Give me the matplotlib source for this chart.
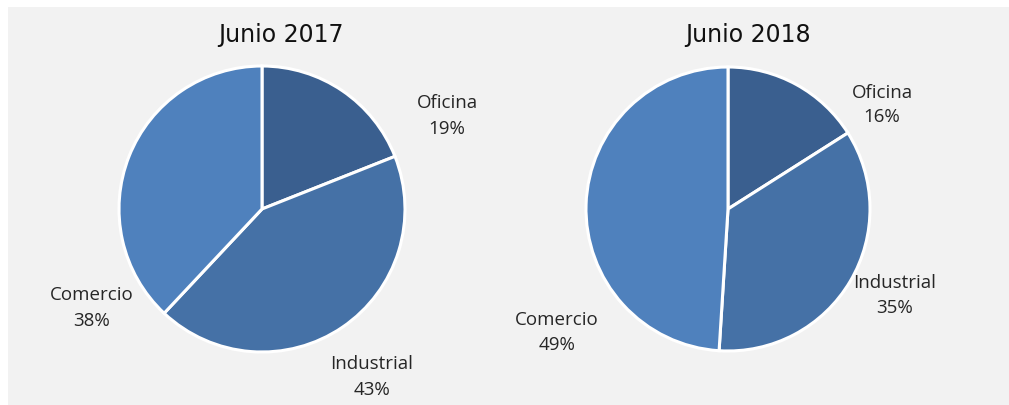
import matplotlib
matplotlib.use("Agg")
import matplotlib.pyplot as plt
from matplotlib.patches import Rectangle

# Share of floor-space transactions by sector
categories = ["Oficina", "Industrial", "Comercio"]
share_2017 = [19, 43, 38]
share_2018 = [16, 35, 49]
titles = ["Junio 2017", "Junio 2018"]

colors = ["#3a5f8f", "#4571a6", "#4f81bd"]
panel_grey = "#f2f2f2"

W, H = 1009, 406
fig = plt.figure(figsize=(W / 100, H / 100), dpi=100, facecolor=panel_grey)

# thin white margin along the top and left edges
fig.patches.append(Rectangle((0, 1 - 8 / H), 1, 8 / H, transform=fig.transFigure,
                             facecolor="white", edgecolor="none", zorder=0))
fig.patches.append(Rectangle((0, 0), 8 / W, 1, transform=fig.transFigure,
                             facecolor="white", edgecolor="none", zorder=0))

ax = fig.add_axes([0, 0, 1, 1])
ax.patch.set_visible(False)

def y(v):
    return H - v

panels = [
    dict(values=share_2017, center=(262, y(210)), radius=143, title_xy=(281, y(35)),
         label_xy=[(447, y(116)), (372, y(377)), (92, y(308))], spacing=1.6),
    dict(values=share_2018, center=(728, y(210)), radius=142, title_xy=(748, y(35)),
         label_xy=[(882, y(105)), (895, y(296)), (557, y(333))], spacing=1.5),
]

label_font = ["Open Sans", "DejaVu Sans"]

for p, title in zip(panels, titles):
    ax.pie(p["values"], colors=colors, startangle=90, counterclock=False,
           center=p["center"], radius=p["radius"], frame=True,
           wedgeprops=dict(edgecolor="white", linewidth=2.2))
    ax.text(*p["title_xy"], title, ha="center", va="center", fontsize=17,
            family="DejaVu Sans", color="#111111")
    for cat, val, (lx, ly) in zip(categories, p["values"], p["label_xy"]):
        ax.text(lx, ly, f"{cat}\n{val}%", ha="center", va="center", fontsize=13.5,
                family=label_font, color="#262626", linespacing=p["spacing"])

ax.set_xlim(0, W)
ax.set_ylim(0, H)
ax.set_aspect("equal")
ax.axis("off")

fig.savefig("out.png", dpi=100, facecolor=panel_grey)
